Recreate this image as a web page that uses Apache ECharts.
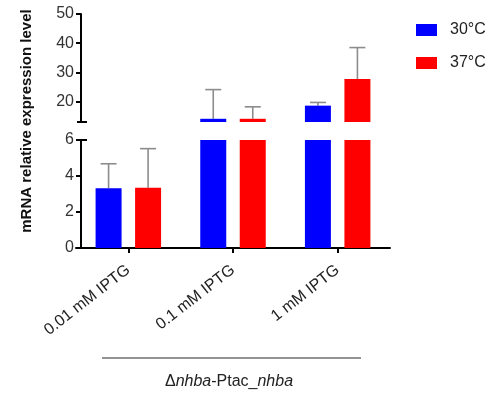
<!DOCTYPE html>
<html>
<head>
<meta charset="utf-8">
<script src="https://cdn.jsdelivr.net/npm/echarts@6/dist/echarts.min.js"></script>
<style>
  html, body { margin: 0; padding: 0; background: #fff; }
  #chart { width: 489px; height: 394px; }
</style>
</head>
<body>
<div id="chart"></div>
<script>
// IPTG induction levels
const categories = ['0.01 mM IPTG', '0.1 mM IPTG', '1 mM IPTG'];
const seriesNames = ['30°C', '37°C'];
// mean relative mRNA expression
const mean30 = [3.32, 14.1, 18.6];
const mean37 = [3.35, 14.1, 27.7];
// mean + SD (top of the error bar)
const upper30 = [4.68, 24.1, 19.7];
const upper37 = [5.52, 18.2, 38.5];
// broken value axis: lower and upper segment ranges and labels
const lowerRange = [0, 6];
const upperRange = [13, 50];
const lowerTicks = [0, 2, 4, 6];
const upperTicks = [20, 30, 40, 50];
const yTitle = 'mRNA relative expression level';

const BLUE = '#0000ff';
const RED = '#ff0000';
const ERR = '#8c8c8c';
const BAR_W = 26;
const BAR_GAP = 13.5;
const FONT = 'Liberation Sans, Arial, sans-serif';

const chart = echarts.init(document.getElementById('chart'));

function inRange(v, r) { return v > r[0] && v <= r[1]; }

// bars for one segment: values whose top lies below the segment are dropped
function barData(means, range) {
  return means.map(v => (v > range[0] ? v : '-'));
}
function errData(means, uppers, range) {
  return means.map((m, i) => (inRange(m, range) ? [i, m, uppers[i]] : [i, '-', '-']));
}

function errorRenderer(side) {
  const off = side * (BAR_W + BAR_GAP) / 2;
  return function (params, api) {
    const m = api.value(1), t = api.value(2);
    if (m === '-' || isNaN(m)) return null;
    const p0 = api.coord([api.value(0), m]);
    const p1 = api.coord([api.value(0), t]);
    const x = p0[0] + off;
    const st = { stroke: ERR, lineWidth: 1.6 };
    return {
      type: 'group',
      children: [
        { type: 'line', shape: { x1: x, y1: p0[1], x2: x, y2: p1[1] }, style: st },
        { type: 'line', shape: { x1: x - 8, y1: p1[1], x2: x + 8, y2: p1[1] }, style: st }
      ]
    };
  };
}

const gridLeft = 76, gridWidth = 314;
const axisLineStyle = { color: '#000', width: 2 };

function xAxisDef(gridIndex, visible) {
  return {
    type: 'category', gridIndex, data: categories,
    axisLine: { show: visible, onZero: false, lineStyle: axisLineStyle },
    axisTick: { show: visible, alignWithLabel: true, length: 5, lineStyle: axisLineStyle },
    axisLabel: visible ? {
      rotate: 38, fontSize: 16, color: '#222', fontFamily: FONT, margin: 20
    } : { show: false }
  };
}

function yAxisDef(gridIndex, range, ticks) {
  return {
    type: 'value', gridIndex, min: range[0], max: range[1], offset: -5,
    splitLine: { show: false },
    axisLine: { show: true, lineStyle: axisLineStyle },
    axisTick: { show: true, length: 5, lineStyle: axisLineStyle, customValues: ticks },
    axisLabel: { fontSize: 16, color: '#333', fontFamily: FONT, margin: 7, customValues: ticks }
  };
}

function barSeries(name, data, color, xi, yi) {
  return {
    type: 'bar', name, data, xAxisIndex: xi, yAxisIndex: yi,
    barWidth: BAR_W, barGap: (BAR_GAP / BAR_W * 100) + '%', clip: true,
    itemStyle: { color }, silent: true
  };
}

function errSeries(data, side, xi, yi) {
  return {
    type: 'custom', data, xAxisIndex: xi, yAxisIndex: yi, clip: false, silent: true,
    renderItem: errorRenderer(side), encode: { x: 0, y: [1, 2] }, z: 1
  };
}

chart.setOption({
  animation: false,
  backgroundColor: '#fff',
  grid: [
    { left: gridLeft, width: gridWidth, top: 14, height: 108 },
    { left: gridLeft, width: gridWidth, top: 140, height: 108 }
  ],
  xAxis: [xAxisDef(0, false), xAxisDef(1, true)],
  yAxis: [yAxisDef(0, upperRange, upperTicks), yAxisDef(1, lowerRange, lowerTicks)],
  legend: {
    orient: 'vertical', left: 416, top: 22, padding: 0,
    itemWidth: 21, itemHeight: 12, itemGap: 17,
    icon: 'rect', selectedMode: false,
    textStyle: { fontSize: 16, color: '#222', fontFamily: FONT, padding: [0, 0, 0, 8] },
    data: seriesNames
  },
  series: [
    barSeries(seriesNames[0], barData(mean30, upperRange), BLUE, 0, 0),
    barSeries(seriesNames[1], barData(mean37, upperRange), RED, 0, 0),
    barSeries(seriesNames[0], mean30, BLUE, 1, 1),
    barSeries(seriesNames[1], mean37, RED, 1, 1),
    errSeries(errData(mean30, upper30, upperRange), -1, 0, 0),
    errSeries(errData(mean37, upper37, upperRange), 1, 0, 0),
    errSeries(errData(mean30, upper30, lowerRange), -1, 1, 1),
    errSeries(errData(mean37, upper37, lowerRange), 1, 1, 1)
  ]
});

// break marks at the inner ends of the two axis segments, axis title, group rule and group label
const pUp = chart.convertToPixel({ yAxisIndex: 0 }, upperRange[0]);
const pLo = chart.convertToPixel({ yAxisIndex: 1 }, lowerRange[1]);
const axisX = gridLeft + 5;
const capStyle = { stroke: '#000', lineWidth: 2 };
chart.setOption({
  graphic: [
    {
      type: 'text', x: 27, y: 121, rotation: Math.PI / 2,
      style: { text: yTitle, font: 'bold 15px ' + FONT, fill: '#111', align: 'center', verticalAlign: 'middle' }
    },
    { type: 'line', shape: { x1: axisX - 4, y1: pUp, x2: axisX + 6, y2: pUp }, style: capStyle },
    { type: 'line', shape: { x1: axisX - 4, y1: pLo, x2: axisX + 6, y2: pLo }, style: capStyle },
    { type: 'line', shape: { x1: 102, y1: 358, x2: 361, y2: 358 }, style: { stroke: '#6e6e6e', lineWidth: 1.5 } },
    {
      type: 'text', x: 229, y: 382,
      style: {
        text: 'Δ{i|nhba}-Ptac_{i|nhba}',
        font: '16px ' + FONT, fill: '#222', align: 'center', verticalAlign: 'middle',
        rich: { i: { fontStyle: 'italic', fontSize: 16, fontFamily: FONT, fill: '#222' } }
      }
    }
  ]
});
</script>
</body>
</html>
